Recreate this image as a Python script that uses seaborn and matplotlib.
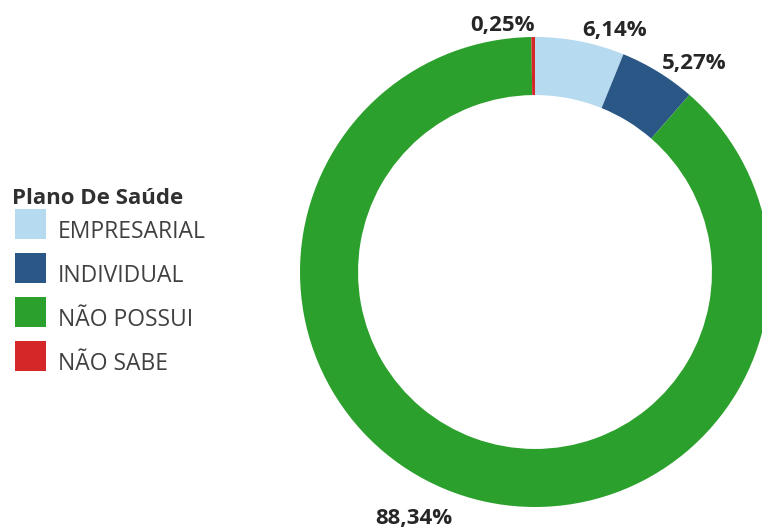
import matplotlib
matplotlib.use("Agg")
import matplotlib.pyplot as plt
from matplotlib.patches import Rectangle
import seaborn as sns

# Data
categories = ["EMPRESARIAL", "INDIVIDUAL", "NÃO POSSUI", "NÃO SABE"]
values = [6.14, 5.27, 88.34, 0.25]
value_labels = ["6,14%", "5,27%", "88,34%", "0,25%"]
legend_title = "Plano De Saúde"

colors = ["#b6daef", "#2a5785", "#2ca02c", "#d62728"]

sns.set_theme(style="white")
palette = sns.color_palette(colors)
plt.rcParams["font.family"] = ["Open Sans", "DejaVu Sans"]

W, H = 762, 527
fig = plt.figure(figsize=(W / 100, H / 100), dpi=100)
fig.patch.set_facecolor("white")

cx, cy, R = 535, 272, 235
ax = fig.add_axes([(cx - R) / W, (H - cy - R) / H, 2 * R / W, 2 * R / H])
wedges, _ = ax.pie(values, colors=palette, startangle=90,
                   counterclock=False, radius=1.0,
                   wedgeprops=dict(width=0.247, linewidth=0))
ax.set_xlim(-1, 1)
ax.set_ylim(-1, 1)
ax.set_aspect("equal")
ax.axis("off")

# label placement (layout, in data units of the pie)
label_pos = [(0.340, 1.026), (0.677, 0.889), (-0.515, -1.047), (-0.140, 1.051)]
for (x, y), t in zip(label_pos, value_labels):
    ax.text(x, y, t, ha="center", va="center", fontsize=16, fontweight="bold",
            color="#262626", clip_on=False)

# legend (drawn in figure pixel layout)
fig.text(12 / W, 1 - 204 / H, legend_title, ha="left", va="baseline",
         fontsize=16, fontweight="bold", color="#303030")
for i, (lab, col) in enumerate(zip(categories, palette)):
    top = 209 + 44 * i
    fig.add_artist(Rectangle((15 / W, 1 - (top + 30) / H), 31 / W, 30 / H,
                             transform=fig.transFigure, facecolor=col,
                             edgecolor="none"))
    fig.text(58 / W, 1 - (top + 29) / H, lab, ha="left", va="baseline",
             fontsize=16.5, color="#404040")

fig.savefig("out.png", dpi=100, facecolor="white")
